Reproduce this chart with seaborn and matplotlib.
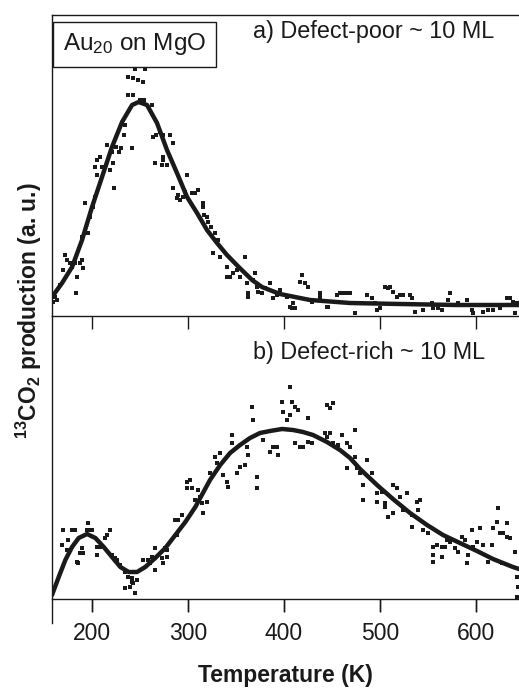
import numpy as np
import pandas as pd
import matplotlib
matplotlib.use("Agg")
import matplotlib.pyplot as plt
import seaborn as sns

# ---------------- data ----------------
# panel a) Defect-poor: fitted curve
a_fit_T = [158.3, 168.8, 179.2, 189.6, 200.0, 210.4, 220.8, 231.3, 241.7, 248.6, 257.3,
           267.7, 278.1, 288.5, 299.0, 309.4, 319.8, 330.2, 340.6, 352.8, 366.7, 377.1,
           395.8, 427.1, 468.8, 520.8, 580.0, 644.8]
a_fit_v = [19, 33, 49, 76, 109, 139, 169, 194, 211, 214, 211,
           193, 166, 143, 119, 103, 86, 73, 61, 49, 36, 29,
           22, 16, 13, 12, 11, 11]
# panel a) measured points
a_pts_T = [237.5, 242.7, 247.9, 253.1, 255.2, 244.8, 237.5, 242.7, 250.0, 254.2, 262.5,
           234.4, 233.3, 241.7, 225.0, 230.2, 228.1, 215.6, 220.8, 221.9, 208.3, 205.2,
           203.1, 210.4, 218.8, 205.2, 222.9, 263.5, 266.7, 270.8, 274.0, 281.3, 284.4,
           265.6, 274.0, 272.9, 278.1, 274.0, 284.4, 289.6, 291.7, 296.9, 299.0, 304.2,
           307.3, 310.4, 294.8, 288.5, 315.6, 315.6, 319.8, 320.8, 324.0, 328.1, 331.3,
           316.7, 326.0, 333.3, 340.6, 340.6, 343.8, 346.9, 351.0, 359.4, 354.2, 361.5,
           362.5, 362.5, 367.7, 369.8, 371.9, 372.9, 192.7, 197.9, 189.6, 195.8, 203.1,
           201.0, 171.9, 174.0, 169.8, 177.1, 179.2, 182.3, 187.5, 189.6, 190.6, 184.4,
           183.3, 166.7, 161.5, 163.6, 159.4,
           377.1, 380.2, 385.4, 388.5, 392.7, 395.8, 403.1, 406.3, 409.4, 408.3, 411.5,
           416.7, 418.8, 421.9, 425.0, 429.2, 437.5, 437.5, 444.8, 445.8, 455.2, 458.3,
           461.5, 465.6, 468.8, 474.0, 486.5, 491.7, 494.8, 496.9, 500.0, 505.2, 508.3,
           510.4, 513.5, 517.7, 520.8, 524.0, 531.3, 533.3, 536.5, 544.8, 554.2, 555.2,
           560.4, 564.6, 567.7, 570.8, 572.9, 575.0, 581.3, 590.6, 595.8, 596.9, 607.3,
           612.5, 617.7, 625.0, 632.3, 635.4, 638.5, 640.6, 642.7]
a_pts_v = [239, 238, 236, 234, 247, 247, 221, 221, 216, 216, 211,
           191, 181, 168, 169, 168, 164, 171, 164, 153, 159, 156,
           149, 149, 146, 141, 128, 179, 181, 184, 181, 181, 173,
           153, 156, 151, 151, 159, 128, 121, 116, 124, 141, 123,
           123, 126, 119, 118, 113, 109, 99, 94, 89, 83, 76,
           101, 63, 59, 49, 39, 39, 43, 46, 59, 39, 33,
           23, 19, 36, 43, 29, 24, 113, 99, 79, 83, 119,
           109, 61, 56, 46, 53, 49, 53, 53, 56, 48, 39,
           23, 31, 19, 16, 14,
           23, 28, 33, 18, 21, 26, 19, 9, 13, 8, 8,
           34, 41, 33, 29, 14, 23, 19, 9, 9, 21, 23,
           23, 23, 23, 3, 21, 18, 13, 6, 8, 29, 28,
           29, 24, 19, 21, 21, 21, 18, 4, 6, 13, 8,
           8, 6, 11, 16, 23, 11, 13, 16, 6, 3, 4,
           6, 6, 8, 18, 18, 14, 3, 13]

# panel b) Defect-rich: fitted curve
b_fit_T = [158.3, 165.3, 172.2, 179.2, 186.1, 194.8, 203.5, 212.2, 220.8, 229.5, 238.2,
           246.9, 255.5, 265.9, 276.4, 286.8, 297.2, 307.6, 322.9, 333.5, 343.8, 354.2,
           364.6, 375.0, 385.4, 398.0, 409.4, 419.8, 430.2, 444.8, 458.3, 468.8, 479.2,
           496.9, 513.5, 531.3, 549.0, 565.6, 583.3, 601.0, 617.7, 638.5, 644.8]
b_fit_v = [4, 22, 39, 52, 61, 65, 61, 52, 42, 32, 27,
           27, 32, 41, 51, 64, 77, 92, 119, 134, 146, 154,
           161, 166, 168, 170, 169, 167, 164, 157, 149, 141, 130,
           114, 100, 86, 74, 64, 56, 48, 40, 32, 30]
# panel b) measured points
b_pts_T = [169.8, 175.0, 168.8, 179.2, 182.3, 174.0, 184.4, 185.4, 187.5, 190.6, 189.6,
           195.8, 197.9, 200.0, 194.8, 205.2, 205.2, 208.3, 213.5, 215.6, 218.8, 220.8,
           224.0, 226.0, 229.2, 234.4, 237.5, 241.7, 234.4, 239.6, 242.7, 244.8, 246.9,
           241.7, 253.1, 258.3, 262.5, 265.6, 265.6, 260.4, 272.9, 274.0, 278.1, 278.1,
           276.0, 286.5, 289.6, 288.5, 293.8, 299.0, 302.1, 299.0, 304.2, 310.4, 307.3,
           312.5, 314.6, 315.6, 319.8, 322.9, 328.1, 330.2, 333.3, 336.5, 340.6, 341.7,
           345.8, 345.8, 351.0, 354.2, 359.4, 361.5, 362.5, 366.7, 367.7, 371.9, 371.9,
           378.1, 385.4, 388.5, 392.7, 393.8, 398.0, 399.0, 403.1, 406.3, 408.3, 406.3,
           411.5, 414.6, 411.5, 416.7, 419.8, 425.0, 425.0, 429.2, 444.8, 447.9, 451.0,
           442.7, 444.8, 447.9, 451.0, 456.3, 460.4, 465.6, 468.8, 474.0, 474.0, 465.6,
           476.0, 479.2, 486.5, 491.7, 482.3, 482.3, 496.9, 496.9, 502.1, 505.2, 505.2,
           508.3, 513.5, 513.5, 517.7, 520.8, 528.1, 524.0, 533.3, 533.3, 538.5, 541.7,
           539.6, 544.8, 550.0, 555.2, 555.2, 555.2, 559.4, 564.6, 564.6, 567.7, 569.8,
           572.9, 578.1, 581.3, 585.4, 588.5, 590.6, 591.7, 595.8, 596.9, 601.0, 604.2,
           607.3, 612.5, 616.7, 617.7, 621.9, 623.0, 625.0, 627.1, 628.1, 632.3, 632.3,
           635.4, 640.6, 642.7, 643.8, 642.7]
b_pts_v = [69, 59, 54, 69, 69, 49, 37, 36, 46, 46, 51,
           76, 69, 69, 69, 52, 44, 52, 61, 64, 69, 44,
           41, 39, 34, 27, 22, 21, 11, 12, 16, 6, 19,
           17, 39, 39, 42, 51, 29, 36, 41, 36, 42, 49,
           51, 79, 79, 64, 84, 117, 119, 111, 111, 109, 99,
           102, 96, 86, 97, 126, 142, 136, 146, 124, 117, 112,
           164, 156, 126, 132, 134, 152, 144, 192, 179, 122, 111,
           159, 147, 152, 152, 144, 197, 187, 179, 212, 197, 184,
           192, 189, 156, 152, 152, 181, 157, 156, 194, 191, 196,
           166, 162, 166, 156, 154, 164, 156, 152, 169, 142, 131,
           131, 126, 139, 126, 114, 99, 106, 97, 107, 96, 92,
           82, 86, 114, 111, 102, 106, 89, 84, 72, 97, 99,
           89, 69, 66, 52, 44, 37, 54, 52, 42, 52, 59,
           57, 51, 47, 62, 59, 36, 44, 69, 52, 57, 71,
           54, 37, 54, 71, 77, 91, 66, 36, 66, 62, 76,
           61, 47, 22, 12, 2]

x_ticks = [200, 300, 400, 500, 600]
x_tick_labels = ["200", "300", "400", "500", "600"]

# ---------------- style ----------------
sns.set_theme(style="white")
plt.rcParams["font.family"] = ["Liberation Sans", "DejaVu Sans"]
plt.rcParams["mathtext.fontset"] = "custom"
plt.rcParams["mathtext.rm"] = "Liberation Sans"
plt.rcParams["mathtext.bf"] = "Liberation Sans:bold"
plt.rcParams["mathtext.it"] = "Liberation Sans:italic"
plt.rcParams["mathtext.default"] = "regular"
plt.rcParams["xtick.bottom"] = True
plt.rcParams["xtick.major.size"] = 9.5
plt.rcParams["xtick.major.width"] = 1.0
plt.rcParams["xtick.direction"] = "out"

INK = "#1a1a1a"
W, H = 519, 688
fig = plt.figure(figsize=(W / 100, H / 100), dpi=100)
left = 52 / W
width = (519 - 52) / W
# panel b) area extends a little below its baseline so the tick marks sit inside it
ax2 = fig.add_axes([left, 1 - 612 / H, width, (612 - 316) / H])
ax1 = fig.add_axes([left, 1 - 316 / H, width, (316 - 15) / H])
ax1.set_zorder(3)
ax2.set_zorder(1)
ax1.patch.set_visible(False)

XLIM = (158.3, 644.8)

dfa_fit = pd.DataFrame({"T": a_fit_T, "v": a_fit_v})
dfa_pts = pd.DataFrame({"T": a_pts_T, "v": a_pts_v})
dfb_fit = pd.DataFrame({"T": b_fit_T, "v": b_fit_v})
dfb_pts = pd.DataFrame({"T": b_pts_T, "v": b_pts_v})

for ax, pts, fit, ylim in [(ax1, dfa_pts, dfa_fit, (0, 301)), (ax2, dfb_pts, dfb_fit, (-13, 283))]:
    sns.scatterplot(data=pts, x="T", y="v", ax=ax, marker="s", s=6, color=INK,
                    linewidth=0, legend=False, zorder=2)
    sns.lineplot(data=fit, x="T", y="v", ax=ax, color=INK, linewidth=3.2,
                 legend=False, zorder=3, sort=False)
    ax.set_xlim(*XLIM)
    ax.set_ylim(*ylim)
    ax.set_xlabel("")
    ax.set_ylabel("")
    ax.set_yticks([])
    ax.spines["right"].set_visible(False)
    for s in ["left", "top", "bottom"]:
        ax.spines[s].set_color(INK)
        ax.spines[s].set_linewidth(1.0)

# top panel: ticks at its bottom pointing down (into panel b)
ax1.set_xticks(x_ticks)
ax1.tick_params(axis="x", direction="out", length=9.5, width=1.0, color=INK,
                bottom=True, labelbottom=False)

# bottom panel
ax2.spines["bottom"].set_position(("data", 0))
ax2.spines["top"].set_visible(False)
ax2.spines["left"].set_bounds(-24, 283)
ax2.set_xticks(x_ticks)
ax2.set_xticklabels(x_tick_labels)
ax2.tick_params(axis="x", direction="out", length=9.5, width=1.0, color=INK,
                bottom=True, labelsize=16.5, labelcolor=INK, pad=7)
ax2.vlines(x_ticks, -13, 0, colors=INK, linewidth=1.0, zorder=5)
ax2.set_xlabel("Temperature (K)", fontsize=16.5, fontweight="bold", color=INK, labelpad=14)

fig.text(29 / W, 1 - 311 / H, "$^{13}$CO$_{2}$ production (a. u.)", rotation=90,
         ha="center", va="center", fontsize=16.5, fontweight="bold", color=INK)

ax1.text(0.177, 0.902, "Au$_{20}$ on MgO", transform=ax1.transAxes, ha="center", va="center",
         fontsize=17.5, color=INK,
         bbox=dict(boxstyle="square,pad=0.4", fc="white", ec=INK, lw=1.0))
ax1.text(0.431, 0.944, "a) Defect-poor ~ 10 ML", transform=ax1.transAxes,
         ha="left", va="center", fontsize=16.8, color=INK)
ax2.text(0.430, 0.875, "b) Defect-rich ~ 10 ML", transform=ax2.transAxes,
         ha="left", va="center", fontsize=16.8, color=INK)

fig.savefig("out.png", dpi=100)
